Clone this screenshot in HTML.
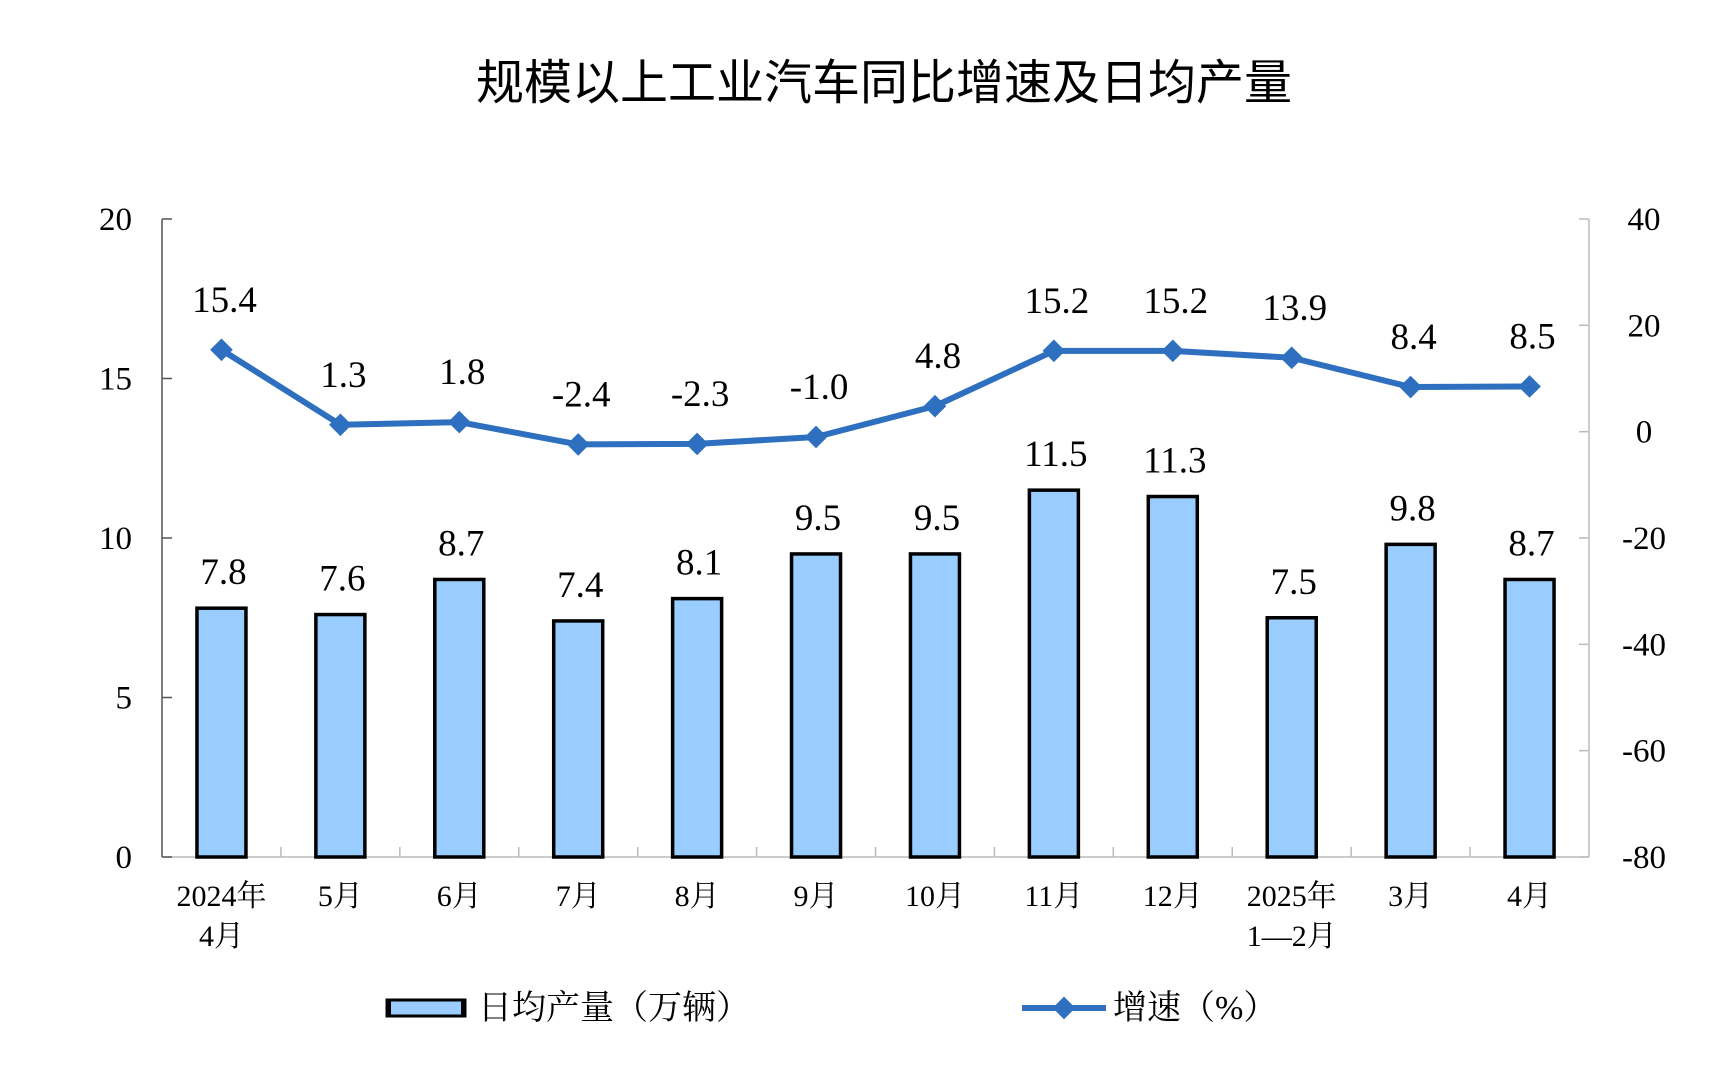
<!DOCTYPE html>
<html><head><meta charset="utf-8">
<style>
html,body{margin:0;padding:0;background:#fff;}
svg{display:block;}
text{font-family:"Liberation Serif","Noto Serif CJK SC",serif;fill:#000;}
.title{font-family:"Liberation Sans","Noto Sans CJK SC",sans-serif;font-size:48px;font-weight:normal;}
</style></head>
<body>
<svg id="chart" width="1728" height="1068" viewBox="0 0 1728 1068">
<text class="title" x="884" y="99" text-anchor="middle">规模以上工业汽车同比增速及日均产量</text>
<g id="axes"></g>
<g id="bars"></g>
<g id="line"></g>
<g id="legend">
  <rect x="387" y="1000" width="78" height="16" fill="#99CCFF" stroke="#000" stroke-width="3"/>
  <rect x="386" y="999" width="5" height="18" fill="#000"/>
  <rect x="461" y="999" width="5" height="18" fill="#000"/>
  <text x="478" y="1019" font-size="34">日均产量（万辆）</text>
  <line x1="1022" y1="1008" x2="1106" y2="1008" stroke="#2E6FBF" stroke-width="6"/>
  <rect x="1056" y="1000" width="16" height="16" fill="#2E6FBF" transform="rotate(45 1064 1008)"/>
  <text x="1113" y="1019" font-size="34">增速（%）</text>
</g>
</svg>
<script>
const categories = [["2024年","4月"],["5月"],["6月"],["7月"],["8月"],["9月"],["10月"],["11月"],["12月"],["2025年","1—2月"],["3月"],["4月"]];
const output = [7.8,7.6,8.7,7.4,8.1,9.5,9.5,11.5,11.3,7.5,9.8,8.7];
const growth = [15.4,1.3,1.8,-2.4,-2.3,-1.0,4.8,15.2,15.2,13.9,8.4,8.5];
const leftTicks = [0,5,10,15,20];
const rightTicks = [-80,-60,-40,-20,0,20,40];

const NS="http://www.w3.org/2000/svg";
const X0=162,X1=1589,Y0=857,Y1=219;
const band=(X1-X0)/categories.length;
const xc=i=>X0+band*(i+0.5);
const yL=v=>Y0-(v-0)/(20-0)*(Y0-Y1);
const yR=v=>Y0-(v+80)/(120)*(Y0-Y1);
function el(tag,attrs,parent,txt){const e=document.createElementNS(NS,tag);for(const k in attrs)e.setAttribute(k,attrs[k]);if(txt!==undefined)e.textContent=txt;parent.appendChild(e);return e;}

const axes=document.getElementById('axes');
let a=el('line',{x1:X0,y1:Y1,x2:X0,y2:Y0,stroke:'#555','stroke-width':1.5},axes);


a=el('line',{x1:X1,y1:Y1,x2:X1,y2:Y0,stroke:'#bbb','stroke-width':1.5},axes);


a=el('line',{x1:X0,y1:Y0,x2:X1,y2:Y0,stroke:'#bbb','stroke-width':1.5},axes);


leftTicks.forEach(v=>{
  el('line',{x1:X0,y1:yL(v),x2:X0+10,y2:yL(v),stroke:'#555','stroke-width':1.5},axes);
  const t=el('text',{x:X0-30,y:yL(v)+11,'font-size':33,'text-anchor':'end'},axes,String(v));
  
  
});
rightTicks.forEach(v=>{
  el('line',{x1:X1-10,y1:yR(v),x2:X1,y2:yR(v),stroke:'#bbb','stroke-width':1.5},axes);
  const t=el('text',{x:1644,y:yR(v)+11,'font-size':33,'text-anchor':'middle'},axes,String(v));
  
  
});
for(let i=1;i<categories.length;i++){
  el('line',{x1:X0+band*i,y1:Y0-10,x2:X0+band*i,y2:Y0,stroke:'#bbb','stroke-width':1.5},axes);
}
categories.forEach((c,i)=>{
  c.forEach((line,j)=>{
    const t=el('text',{x:xc(i),y:906+j*40,'font-size':30,'text-anchor':'middle'},axes,line);
    
    
  });
});
const bars=document.getElementById('bars');
output.forEach((v,i)=>{
  const r=el('rect',{x:xc(i)-24.5,y:yL(v),width:49,height:Y0-yL(v),fill:'#99CCFF',stroke:'#000','stroke-width':3.5},bars);
  
  
  const t=el('text',{x:xc(i)+2,y:yL(v)-24,'font-size':37,'text-anchor':'middle'},bars,v.toFixed(1));
  
  
});
const lg=document.getElementById('line');
const pl=el('polyline',{points:growth.map((v,i)=>xc(i)+','+yR(v)).join(' '),fill:'none',stroke:'#2E6FBF','stroke-width':6,'stroke-linejoin':'round'},lg);


growth.forEach((v,i)=>{
  const x=xc(i),y=yR(v);
  const m=el('rect',{x:x-8,y:y-8,width:16,height:16,fill:'#2E6FBF',transform:`rotate(45 ${x} ${y})`},lg);
  
  
  const t=el('text',{x:x+3,y:y-38,'font-size':37,'text-anchor':'middle'},lg,v.toFixed(1));
  
  
});
</script>
</body></html>
